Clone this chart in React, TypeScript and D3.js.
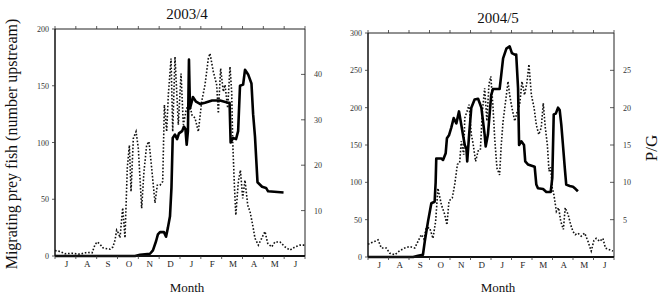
import React from "react";
import * as d3 from "d3";

// ---------- data ----------
const monthLabels = ["J", "A", "S", "O", "N", "D", "J", "F", "M", "A", "M", "J"];
const titles = ["2003/4", "2004/5"];
const leftTicksA = [0, 50, 100, 150, 200];
const rightTicksA = [10, 20, 30, 40];
const leftTicksB = [0, 50, 100, 150, 200, 250, 300];
const rightTicksB = [5, 10, 15, 20, 25];
const leftMaxA = 200;
const rightMaxA = 50;
const leftMaxB = 300;
const rightMaxB = 30;

// time in months since 1 July; fish = migrating prey fish (left axis), pg = P/G (right axis)
const fishA_t = [0, 3.84, 4.08, 4.56, 4.7, 4.85, 4.94, 5.04, 5.23, 5.33, 5.42, 5.52, 5.59, 5.65, 5.76, 5.86, 5.95, 6.1, 6.19, 6.26, 6.32, 6.38, 6.43, 6.48, 6.62, 6.77, 6.96, 7.2, 7.54, 7.92, 8.31, 8.38, 8.43, 8.55, 8.69, 8.79, 8.88, 9.03, 9.12, 9.27, 9.43, 9.51, 9.6, 9.72, 9.94, 10.13, 10.23, 10.97];
const fishA_v = [0, 0, 1, 2, 5, 13, 19, 21, 21, 17, 25, 35, 60, 104, 107, 103, 108, 110, 114, 112, 98, 110, 173, 130, 140, 136, 134, 135, 137, 137, 135, 135, 100, 104, 103, 110, 150, 151, 164, 160, 152, 125, 105, 65, 61, 60, 57, 56];

const pgA_t = [0, 0.24, 0.48, 0.82, 1.2, 1.54, 1.78, 1.92, 2.02, 2.16, 2.3, 2.5, 2.64, 2.78, 2.88, 2.96, 3.05, 3.12, 3.25, 3.36, 3.47, 3.57, 3.65, 3.76, 3.89, 4.0, 4.16, 4.27, 4.4, 4.51, 4.64, 4.8, 4.91, 5.04, 5.17, 5.25, 5.36, 5.44, 5.57, 5.65, 5.76, 5.92, 6.05, 6.16, 6.29, 6.43, 6.58, 6.72, 6.88, 7.04, 7.2, 7.36, 7.44, 7.6, 7.76, 7.84, 7.95, 8.08, 8.16, 8.29, 8.4, 8.48, 8.53, 8.61, 8.68, 8.8, 8.9, 9.01, 9.12, 9.25, 9.36, 9.49, 9.6, 9.76, 9.92, 10.08, 10.21, 10.4, 10.56, 10.8, 11.04, 11.28, 11.52, 11.76, 12.0];
const pgA_v = [1.2, 1.0, 0.5, 0.6, 0.4, 0.8, 0.7, 2.5, 3.1, 2.6, 1.8, 1.6, 1.5, 2.0, 3.5, 5.7, 5.0, 4.0, 10.6, 4.0, 19.4, 24.4, 14.2, 25.9, 27.4, 23.7, 10.5, 18.6, 24.4, 25.2, 19.4, 11.7, 15.6, 15.6, 16.4, 33.3, 27.4, 35.5, 43.5, 27.4, 43.9, 28.9, 40.2, 28.9, 32, 34, 31, 30.4, 27.4, 34, 37.7, 43.5, 44.6, 40.6, 37.7, 31.4, 41.3, 36.2, 37.7, 32.6, 41.7, 36.2, 25.2, 15.6, 9.0, 16.4, 18.9, 12.7, 16.7, 11.2, 9.8, 6.8, 3.9, 2.4, 3.9, 5.4, 2.8, 2.0, 3.1, 3.1, 2.0, 1.3, 2.0, 2.4, 2.4];

const fishB_t = [0, 2.2, 2.44, 2.68, 2.77, 2.93, 3.09, 3.25, 3.3, 3.33, 3.58, 3.66, 3.79, 3.85, 3.95, 4.06, 4.18, 4.31, 4.44, 4.55, 4.63, 4.72, 4.8, 4.84, 4.93, 5.04, 5.2, 5.37, 5.53, 5.69, 5.74, 5.85, 6.01, 6.1, 6.42, 6.5, 6.59, 6.75, 6.91, 7.02, 7.16, 7.23, 7.32, 7.37, 7.48, 7.61, 7.67, 7.8, 8.13, 8.21, 8.29, 8.54, 8.7, 8.91, 8.99, 9.06, 9.16, 9.27, 9.35, 9.43, 9.51, 9.6, 9.67, 9.84, 10.0, 10.13, 10.24];
const fishB_v = [0, 0, 1.5, 3, 21, 48, 72, 74, 100, 132, 132, 130, 139, 159, 163, 173, 186, 179, 195, 177, 164, 150, 145, 128, 163, 200, 211, 212, 200, 164, 148, 164, 217, 225, 225, 244, 266, 279, 282, 273, 271, 271, 226, 150, 155, 150, 128, 124, 121, 97, 92, 91, 87, 87, 106, 191, 192, 200, 197, 177, 150, 119, 97, 95, 94, 91, 88];

const pgB_t = [0, 0.16, 0.34, 0.49, 0.65, 0.89, 1.06, 1.3, 1.55, 1.79, 2.03, 2.28, 2.44, 2.6, 2.73, 2.84, 3.01, 3.17, 3.3, 3.41, 3.58, 3.74, 3.85, 3.95, 4.11, 4.23, 4.36, 4.47, 4.55, 4.67, 4.72, 4.83, 4.93, 5.04, 5.12, 5.25, 5.37, 5.48, 5.58, 5.69, 5.8, 5.9, 5.99, 6.1, 6.18, 6.29, 6.42, 6.5, 6.59, 6.75, 6.83, 6.91, 7.02, 7.16, 7.28, 7.4, 7.51, 7.64, 7.76, 7.85, 7.97, 8.1, 8.21, 8.33, 8.45, 8.55, 8.65, 8.75, 8.83, 8.91, 8.99, 9.07, 9.19, 9.3, 9.4, 9.53, 9.62, 9.76, 9.89, 10.0, 10.11, 10.24, 10.4, 10.57, 10.73, 10.89, 11.02, 11.13, 11.3, 11.46, 11.58, 11.74, 11.95];
const pgB_v = [1.7, 1.9, 2.1, 2.3, 1.2, 1.2, 0.5, 0.3, 0.85, 1.2, 1.4, 1.2, 2.1, 3.0, 2.4, 3.9, 3.9, 2.5, 4.8, 9.2, 7.0, 5.7, 4.3, 7.5, 7.9, 9.7, 12.4, 12.6, 15.5, 13.7, 18.6, 19.5, 20.4, 16.4, 15.3, 12.8, 14.2, 14.3, 19.5, 22.6, 18.2, 23.1, 24.2, 20, 15.9, 11.9, 11.0, 15, 18.2, 21.7, 23.5, 21.7, 20, 18.2, 19.5, 20.4, 23.5, 21.7, 23.5, 25.8, 21.7, 20, 17.7, 16.4, 17.3, 20.6, 17.3, 15, 11.5, 12, 9.2, 8.3, 6.1, 6.6, 4.8, 3.7, 6.6, 5.7, 4.3, 3.4, 3.0, 3.2, 2.8, 3.2, 2.1, 0.8, 2.2, 2.5, 2.1, 2.5, 1.2, 1.0, 0.8];

// ---------- layout ----------
const W = 662;
const H = 299;
const FONT = "'Liberation Serif', 'Times New Roman', serif";

type PanelProps = {
  x0: number; x1: number; y0: number; y1: number;
  title: string;
  leftMax: number; rightMax: number;
  leftTicks: number[]; rightTicks: number[];
  fishT: number[]; fishV: number[];
  pgT: number[]; pgV: number[];
};

function Panel(p: PanelProps) {
  const x = d3.scaleLinear().domain([0, 12]).range([p.x0, p.x1]);
  const yl = d3.scaleLinear().domain([0, p.leftMax]).range([p.y1, p.y0]);
  const yr = d3.scaleLinear().domain([0, p.rightMax]).range([p.y1, p.y0]);
  const fish = p.fishT.map((t, i) => [t, p.fishV[i]] as [number, number]);
  const pg = p.pgT.map((t, i) => [t, p.pgV[i]] as [number, number]);
  const lineL = d3.line<[number, number]>().x((d) => x(d[0])).y((d) => yl(d[1]));
  const lineR = d3.line<[number, number]>().x((d) => x(d[0])).y((d) => yr(d[1]));
  const monthTicks = d3.range(0, 13);
  const cx = (p.x0 + p.x1) / 2 + 7;
  return (
    <g>
      <text x={cx} y={p.y0 - 10} textAnchor="middle" fontFamily={FONT} fontSize={15} fill="#111">{p.title}</text>
      {/* pg dotted */}
      <path d={lineR(pg) || ""} fill="none" stroke="#111" strokeWidth={1.6} strokeDasharray="1.6,1.8" />
      {/* fish solid */}
      <path d={lineL(fish) || ""} fill="none" stroke="#000" strokeWidth={2.6} strokeLinejoin="round" />
      {/* frame */}
      <line x1={p.x0} x2={p.x1} y1={p.y0} y2={p.y0} stroke="#222" strokeWidth={1} />
      <line x1={p.x1} x2={p.x1} y1={p.y0} y2={p.y1} stroke="#222" strokeWidth={1} />
      <line x1={p.x0} x2={p.x0} y1={p.y0} y2={p.y1} stroke="#111" strokeWidth={1.5} />
      <line x1={p.x0} x2={p.x1} y1={p.y1} y2={p.y1} stroke="#111" strokeWidth={2} />
      {monthTicks.map((m) => (
        <g key={"mt" + m}>
          <line x1={x(m)} x2={x(m)} y1={p.y0} y2={p.y0 - 3} stroke="#333" strokeWidth={0.8} />
          <line x1={x(m)} x2={x(m)} y1={p.y1} y2={p.y1 + 3} stroke="#333" strokeWidth={0.8} />
        </g>
      ))}
      {monthLabels.map((lab, i) => (
        <text key={"ml" + i} x={x(i + 0.5) + 1} y={p.y1 + 11} textAnchor="middle" fontFamily={FONT} fontSize={9} fill="#222">{lab}</text>
      ))}
      {p.leftTicks.map((v) => (
        <g key={"lt" + v}>
          <line x1={p.x0 - 3} x2={p.x0} y1={yl(v)} y2={yl(v)} stroke="#333" strokeWidth={0.8} />
          <text x={p.x0 - 6} y={yl(v) + 3} textAnchor="end" fontFamily={FONT} fontSize={8} fill="#333">{v}</text>
        </g>
      ))}
      {p.rightTicks.map((v) => (
        <g key={"rt" + v}>
          <line x1={p.x1 - 4} x2={p.x1} y1={yr(v)} y2={yr(v)} stroke="#333" strokeWidth={0.8} />
          <text x={p.x1 + 9} y={yr(v) + 3} textAnchor="start" fontFamily={FONT} fontSize={8} fill="#333">{v}</text>
        </g>
      ))}
      <text x={cx} y={292} textAnchor="middle" fontFamily={FONT} fontSize={13} fill="#111">Month</text>
    </g>
  );
}

export default function App() {
  return (
    <svg width={W} height={H} style={{ position: "absolute", left: 0, top: 0, background: "#fff" }}>
      <rect width={W} height={H} fill="#fff" />
      <Panel x0={55} x1={305} y0={29} y1={256} title={titles[0]}
        leftMax={leftMaxA} rightMax={rightMaxA} leftTicks={leftTicksA} rightTicks={rightTicksA}
        fishT={fishA_t} fishV={fishA_v} pgT={pgA_t} pgV={pgA_v} />
      <Panel x0={368} x1={614} y0={33} y1={257} title={titles[1]}
        leftMax={leftMaxB} rightMax={rightMaxB} leftTicks={leftTicksB} rightTicks={rightTicksB}
        fishT={fishB_t} fishV={fishB_v} pgT={pgB_t} pgV={pgB_v} />
      <text transform="translate(17,144) rotate(-90)" textAnchor="middle" fontFamily={FONT} fontSize={16} fill="#111">Migrating prey fish (number upstream)</text>
      <text transform="translate(657,148) rotate(-90)" textAnchor="middle" fontFamily={FONT} fontSize={17} fill="#111">P/G</text>
    </svg>
  );
}
